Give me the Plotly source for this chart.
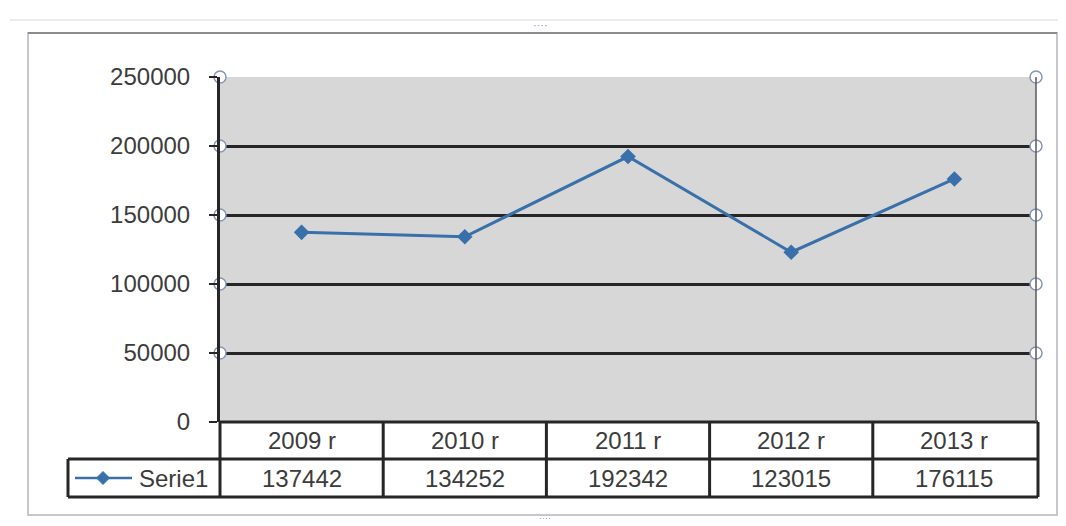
import plotly.graph_objects as go

years = ["2009 r", "2010 r", "2011 r", "2012 r", "2013 r"]
values = [137442, 134252, 192342, 123015, 176115]
series_name = "Serie1"
y_ticks = [0, 50000, 100000, 150000, 200000, 250000]

OFF = 8                      # default page body margin
W, H = 1066 - OFF, 526 - OFF
L, R, T, B = 220, 1036, 77, 422  # plot area in window pixels

def px(xp):
    return (xp - L) / (R - L)

def py(yp):
    return (B - yp) / (B - T)

LINE_COL = "#3a70aa"
TXT = "#3c3c3c"
FONT = "Arial, Liberation Sans, sans-serif"
DARK = "#262626"

fig = go.Figure()
fig.add_trace(go.Scatter(
    x=list(range(len(years))), y=values, mode="lines+markers",
    line=dict(color=LINE_COL, width=3),
    marker=dict(symbol="diamond", size=12, color=LINE_COL),
    showlegend=False, hoverinfo="skip"))

# selection handles on gridline ends
hx = [-0.5] * 5 + [4.5] * 5
hy = y_ticks[1:] + y_ticks[1:]
fig.add_trace(go.Scatter(
    x=hx, y=hy, mode="markers", cliponaxis=False,
    marker=dict(symbol="circle", size=12, color="white",
                line=dict(color="#8797b5", width=1.5)),
    showlegend=False, hoverinfo="skip"))

shapes = []
# outer chart frame
shapes.append(dict(type="rect", xref="paper", yref="paper",
                   x0=px(28), x1=px(1057), y0=py(515), y1=py(33),
                   line=dict(color="#c4c8ce", width=2), layer="below"))
shapes.append(dict(type="line", xref="paper", yref="paper",
                   x0=px(28), x1=px(1057), y0=py(33), y1=py(33),
                   line=dict(color="#8c8c8c", width=2), layer="below"))
shapes.append(dict(type="line", xref="paper", yref="paper",
                   x0=px(10), x1=px(1064), y0=py(20), y1=py(20),
                   line=dict(color="#e2e4e8", width=1.5), layer="below"))
# table grid
row_top, row_mid, row_bot = B, 459, 497
col_edges = [L + i * (R - L) / 5 for i in range(6)]
tbl_lines = [
    (L, row_mid, R + 2, row_mid),
    (L, row_top, R + 2, row_top),
    (68, row_mid, L, row_mid),
    (68, row_bot, R + 2, row_bot),
    (68, row_mid, 68, row_bot),
]
for ce in col_edges:
    ce2 = ce if ce < R else R + 2
    tbl_lines.append((ce2, row_top, ce2, row_bot))
for (x0, y0, x1, y1) in tbl_lines:
    shapes.append(dict(type="line", xref="paper", yref="paper",
                       x0=px(x0), x1=px(x1), y0=py(y0), y1=py(y1),
                       line=dict(color=DARK, width=3)))
# legend key line + diamond
ky = (row_mid + row_bot) / 2
shapes.append(dict(type="line", xref="paper", yref="paper",
                   x0=px(75), x1=px(132), y0=py(ky), y1=py(ky),
                   line=dict(color=LINE_COL, width=2.5)))
d = 6.5
cx0 = 103
path = "M {} {} L {} {} L {} {} L {} {} Z".format(
    px(cx0), py(ky - d), px(cx0 + d), py(ky), px(cx0), py(ky + d), px(cx0 - d), py(ky))
shapes.append(dict(type="path", xref="paper", yref="paper", path=path,
                   fillcolor=LINE_COL, line=dict(color=LINE_COL, width=1)))

annotations = []
hy_text = (row_top + row_mid) / 2
for i, (yr, v) in enumerate(zip(years, values)):
    cx = (col_edges[i] + col_edges[i + 1]) / 2
    annotations.append(dict(x=px(cx), y=py(hy_text), xref="paper", yref="paper",
                            text=yr, showarrow=False, xanchor="center", yanchor="middle",
                            font=dict(size=24, color=TXT, family=FONT)))
    annotations.append(dict(x=px(cx), y=py(ky), xref="paper", yref="paper",
                            text=str(v), showarrow=False, xanchor="center", yanchor="middle",
                            font=dict(size=24, color=TXT, family=FONT)))
annotations.append(dict(x=px(137), y=py(ky), xref="paper", yref="paper",
                        text=series_name, showarrow=False, xanchor="left", yanchor="middle",
                        font=dict(size=24, color=TXT, family=FONT)))
annotations.append(dict(x=px(540), y=py(25), xref="paper", yref="paper",
                        text="····", showarrow=False, xanchor="center", yanchor="middle",
                        font=dict(size=11, color="#8a96aa", family=FONT)))
annotations.append(dict(x=px(545), y=py(518), xref="paper", yref="paper",
                        text="····", showarrow=False, xanchor="center", yanchor="middle",
                        font=dict(size=9, color="#8a96aa", family=FONT)))

fig.update_layout(
    width=W, height=H, autosize=False,
    margin=dict(l=L - OFF, r=W - (R - OFF), t=T - OFF, b=H - (B - OFF), pad=0),
    paper_bgcolor="white", plot_bgcolor="#d7d7d7",
    xaxis=dict(range=[-0.5, 4.5], showticklabels=False, showgrid=False,
               zeroline=False, showline=False, fixedrange=True),
    yaxis=dict(range=[0, 250000], tickvals=y_ticks,
               ticktext=[str(t) for t in y_ticks],
               tickfont=dict(size=24, color=TXT, family=FONT),
               showgrid=True, gridcolor=DARK, gridwidth=2.5,
               zeroline=False, showline=True, linecolor=DARK, linewidth=3,
               ticks="outside", ticklen=8, tickcolor=DARK, tickwidth=2,
               ticklabelstandoff=14),
    shapes=shapes, annotations=annotations,
)
# right border of plot area
fig.add_shape(type="line", xref="paper", yref="paper", x0=1, x1=1, y0=0, y1=1,
              line=dict(color="#5a5a5a", width=1.5))

fig.write_html("out.html")
